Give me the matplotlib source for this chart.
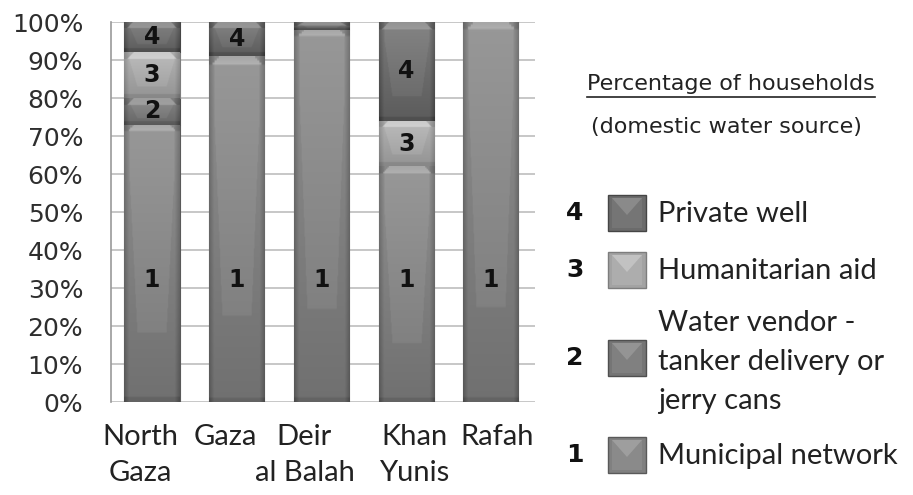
import numpy as np
import matplotlib
matplotlib.use("Agg")
import matplotlib.pyplot as plt
from matplotlib.patches import Rectangle, Polygon
from matplotlib.lines import Line2D
from matplotlib.transforms import ScaledTranslation

# ---------------- data ----------------
regions = ["North\nGaza", "Gaza", "Deir\nal Balah", "Khan\nYunis", "Rafah"]
municipal = [73, 91, 98, 62, 100]
vendor = [7, 0, 0, 0, 0]
humanitarian = [12, 0, 0, 12, 0]
private_well = [8, 9, 2, 26, 0]
series = [municipal, vendor, humanitarian, private_well]
series_codes = ["1", "2", "3", "4"]
series_names = ["Municipal network",
                "Water vendor -\ntanker delivery or\njerry cans",
                "Humanitarian aid",
                "Private well"]
yticks = list(range(0, 101, 10))
municipal_label_y = 32
legend_title = "Percentage of households"
legend_subtitle = "(domestic water source)"

# ---------------- style ----------------
grays = [0.50, 0.46, 0.64, 0.42]
XLABEL_FONT = "Lato"
LEG_FONT = "Lato"
MIN_LABEL_H = 5
label_dx_px = [-12, -11, -17, 8, 6]
W, H = 913, 495

fig = plt.figure(figsize=(W / 100, H / 100), dpi=100)
ax = fig.add_axes([111 / W, 1 - 402 / H, (535 - 111) / W, (402 - 22) / H])

x = np.arange(len(regions))
bar_w = 0.65


def bevel_image(g, seg_h):
    ny, nx = 160, 80
    u = np.linspace(0, 1, nx)[None, :]
    v = np.linspace(0, 1, ny)[:, None]
    d = np.minimum(u, 1 - u)
    val = g + 0.12 * (v - 0.5) * np.ones_like(u)
    cen = (d > 0.10 + 0.25 * np.clip(0.8 - v, 0, 1)) & (v > 0.25)
    val = val + 0.035 * cen
    side = np.clip(1 - d / 0.09, 0, 1)
    val = val - 0.10 * side
    band = min(1.8 / max(seg_h, 0.1), 0.45)
    tb = np.clip((v - (1 - band)) / band, 0, 1)
    trap = d > (0.05 + 0.12 * tb)
    val = val + 0.10 * ((tb > 0) & trap) * (1 - 0.4 * tb)
    val = val - 0.06 * ((tb > 0) & ~trap)
    bb = min(1.0 / max(seg_h, 0.1), 0.3)
    val = val - 0.05 * (v < bb)
    val = np.clip(val, 0, 1)
    return np.repeat(val[:, :, None], 3, axis=2)


bottom = np.zeros(len(regions))
for k, vals in enumerate(series):
    vals = np.array(vals, dtype=float)
    g = grays[k]
    bars = ax.bar(x, vals, bar_w, bottom=bottom, color=str(g),
                  edgecolor=str(max(g - 0.15, 0)), linewidth=0.8, zorder=3)
    for i, p in enumerate(bars.patches):
        if vals[i] <= 0:
            continue
        x0, y0 = p.get_x(), p.get_y()
        img = ax.imshow(bevel_image(g, vals[i]),
                        extent=[x0, x0 + p.get_width(), y0, y0 + p.get_height()],
                        origin="lower", aspect="auto", interpolation="bilinear", zorder=3.5)
        img.set_clip_path(p)
        if vals[i] < MIN_LABEL_H:
            continue
        ly = municipal_label_y if k == 0 else bottom[i] + vals[i] / 2
        ax.text(x[i], ly, series_codes[k], ha="center", va="center", fontsize=17,
                fontweight="bold", color="#111111", zorder=5)
    bottom += vals

ax.set_xlim(-0.484, 4.52)
ax.set_ylim(0, 100)
ax.set_yticks(yticks)
ax.set_yticklabels([f"{t}%" for t in yticks], fontsize=18, color="#2e2e2e")
ax.set_xticks(x)
ax.set_xticklabels([])
ax.tick_params(axis="y", length=0, pad=20)
ax.tick_params(axis="x", length=0)
ax.yaxis.grid(True, color="#bdbdbd", linewidth=1.2, zorder=0)
ax.set_axisbelow(True)
for s in ["top", "right", "bottom"]:
    ax.spines[s].set_visible(False)
ax.spines["left"].set_color("#9a9a9a")
ax.spines["left"].set_linewidth(1.2)

# category labels under the bars (own text so they can be nudged like the original)
for xi, name, dx in zip(x, regions, label_dx_px):
    tr = ax.get_xaxis_transform() + ScaledTranslation(dx / 100, -22 / 100, fig.dpi_scale_trans)
    ax.text(xi, 0, name, transform=tr, ha="center", va="top", fontsize=21,
            family=XLABEL_FONT, color="#222222", linespacing=1.48)


# ---------------- legend ----------------
def fy(py):
    return 1 - py / H


def fx(px):
    return px / W


t = fig.text(fx(731), fy(84), legend_title, ha="center", va="center", fontsize=16, color="#222222")
fig.text(fx(726), fy(127), legend_subtitle, ha="center", va="center", fontsize=16, color="#222222")
fig.canvas.draw()
bb = t.get_window_extent()
fig.add_artist(Line2D([bb.x0 / W, bb.x1 / W], [fy(97), fy(97)], color="#222222", linewidth=1.2,
                      transform=fig.transFigure))

row_y = [455, 358, 270, 213]
text_dy = [1, 4, 1, 1]
sq_px = 36
for k in range(len(series)):
    yc = row_y[k]
    g = grays[k]
    fig.text(fx(575), fy(yc), series_codes[k], ha="center", va="center", fontsize=18,
             fontweight="bold", color="#111111")
    x0p, y0p = 608, yc + sq_px / 2
    sq = Rectangle((fx(x0p), fy(y0p)), fx(38), sq_px / H, transform=fig.transFigure,
                   facecolor=str(g), edgecolor=str(max(g - 0.15, 0)), linewidth=1.0)
    fig.add_artist(sq)
    inner = Rectangle((fx(x0p + 4), fy(y0p - 3)), fx(30), (sq_px - 6) / H, transform=fig.transFigure,
                      facecolor=str(min(g + 0.04, 1)), edgecolor="none")
    fig.add_artist(inner)
    tri = Polygon([(fx(x0p + 4), fy(yc - sq_px / 2 + 3)), (fx(x0p + 34), fy(yc - sq_px / 2 + 3)),
                   (fx(x0p + 19), fy(yc + 2))], closed=True, transform=fig.transFigure,
                  facecolor=str(min(g + 0.12, 1)), edgecolor="none")
    fig.add_artist(tri)
    fig.text(fx(658), fy(yc + text_dy[k]), series_names[k], ha="left", va="center", fontsize=21,
             family=LEG_FONT, color="#222222", linespacing=1.6)

fig.savefig("out.png", dpi=100)
